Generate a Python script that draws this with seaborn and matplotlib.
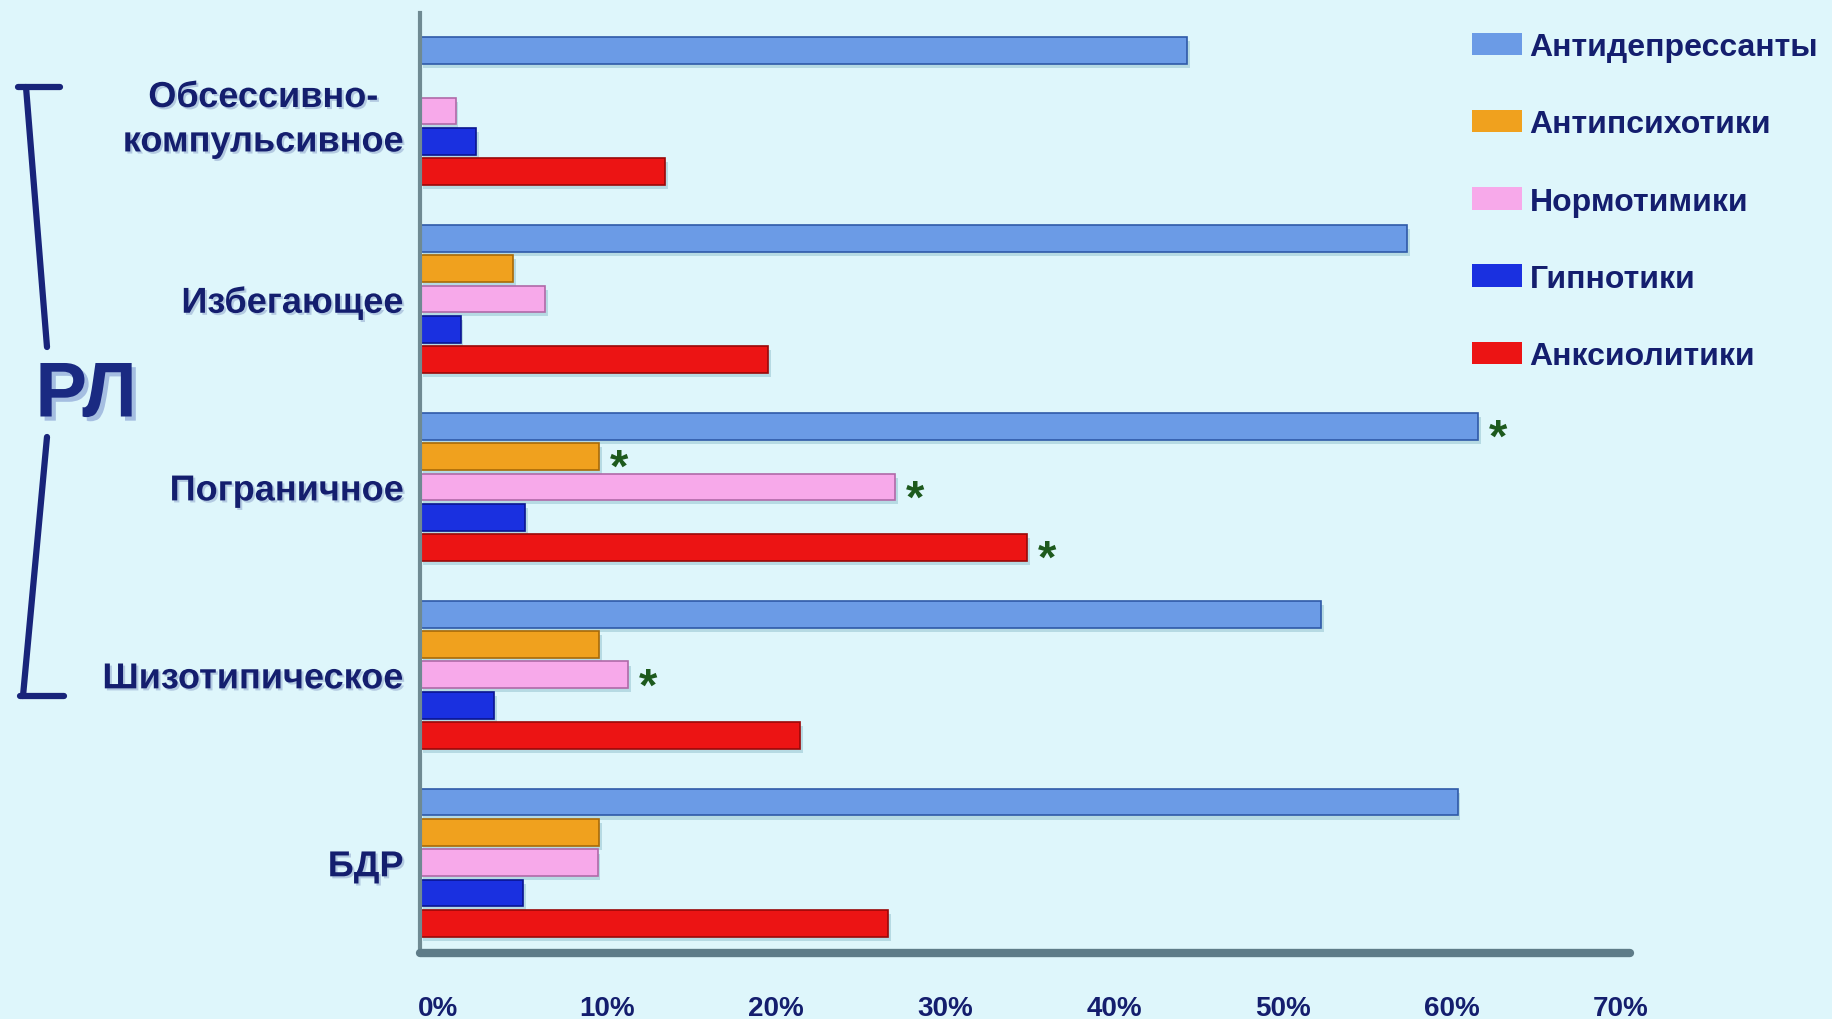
import matplotlib
matplotlib.use("Agg")
import matplotlib.pyplot as plt
import matplotlib.transforms as mtransforms
import matplotlib.patheffects as pe
import seaborn as sns
import pandas as pd

# ---- data ----
categories = ["Обсессивно-\nкомпульсивное", "Избегающее", "Пограничное", "Шизотипическое", "БДР"]
drugs = ["Антидепрессанты", "Антипсихотики", "Нормотимики", "Гипнотики", "Анксиолитики"]
antidepressants = [45.4, 58.4, 62.6, 53.3, 61.4]
antipsychotics = [0.0, 5.5, 10.6, 10.6, 10.6]
normotimics = [2.1, 7.4, 28.1, 12.3, 10.5]
hypnotics = [3.3, 2.4, 6.2, 4.4, 6.1]
anxiolytics = [14.5, 20.6, 35.9, 22.5, 27.7]
xticks = [0, 10, 20, 30, 40, 50, 60, 70]
xtick_labels = ["0%", "10%", "20%", "30%", "40%", "50%", "60%", "70%"]
# significance marks: (category index, drug index)
stars = [(2, 0), (2, 1), (2, 2), (2, 4), (3, 2)]

series = [antidepressants, antipsychotics, normotimics, hypnotics, anxiolytics]
rows = []
for d, vals in zip(drugs, series):
    for c, v in zip(categories, vals):
        rows.append({"cat": c, "drug": d, "val": v})
df = pd.DataFrame(rows)

colors = ["#6b9be6", "#f0a11e", "#f7a9ea", "#1a30e0", "#ec1414"]
edges = ["#2f5aa8", "#a86a08", "#b06aa8", "#0a1590", "#9a0808"]
navy = "#141e6e"
bg = "#def6fb"

sns.set_theme(style="white")
plt.rcParams["font.family"] = ["Liberation Sans", "DejaVu Sans"]

fig = plt.figure(figsize=(18.32, 10.20), dpi=100, facecolor=bg)
ax = fig.add_axes([0.2293, 0.0647, 0.875 - 0.2293, 0.986 - 0.0647])
ax.set_facecolor(bg)

sns.barplot(data=df, x="val", y="cat", hue="drug", order=categories, hue_order=drugs,
            palette=colors, orient="h", width=0.807, gap=0.12, ax=ax, legend=True,
            saturation=1, linewidth=0)

for cont, ec in zip(ax.containers, edges):
    for bar in cont:
        bar.set_edgecolor(ec)
        bar.set_linewidth(1.2)
        bar.set_path_effects([pe.SimplePatchShadow(offset=(2, -3), shadow_rgbFace="#9cc8d4", alpha=0.6),
                              pe.Normal()])

ax.set_xlim(0, 70)
ax.set_ylim(4.48, -0.52)
ax.set_xlabel("")
ax.set_ylabel("")

ax.set_xticks(xticks)
ax.set_xticklabels(xtick_labels, fontsize=20, fontweight="bold", color=navy,
                   family=["Liberation Sans Narrow", "Liberation Sans", "DejaVu Sans"])
ax.tick_params(axis="x", length=0, pad=30)
ax.tick_params(axis="y", length=0, pad=12)
offset = mtransforms.ScaledTranslation(0.18, 0, fig.dpi_scale_trans)
for lab in ax.get_xticklabels():
    lab.set_transform(lab.get_transform() + offset)

for lab in ax.get_yticklabels():
    lab.set_fontsize(26)
    lab.set_fontweight("bold")
    lab.set_color(navy)
    lab.set_horizontalalignment("right")
    lab.set_multialignment("center")
    lab.set_linespacing(1.35)
    lab.set_path_effects([pe.withSimplePatchShadow(offset=(1.5, -1.5), shadow_rgbFace="#8aa0c8", alpha=0.5)])

for s in ["top", "right"]:
    ax.spines[s].set_visible(False)
ax.spines["left"].set_color("#6f8a92")
ax.spines["left"].set_linewidth(3)
ax.spines["bottom"].set_color("#5e7c88")
ax.spines["bottom"].set_linewidth(6)
ax.spines["bottom"].set_capstyle("round")
ax.spines["bottom"].set_bounds(0, 71.6)

# significance stars
n = len(drugs)
slot = 0.807 / n
for ci, di in stars:
    y = ci - 0.807 / 2 + slot * (di + 0.5)
    x = series[di][ci]
    ax.annotate("*", xy=(x, y), xytext=(8, -9), textcoords="offset points",
                ha="left", va="center", fontsize=34, fontweight="bold", color="#1d5a1d")

# legend
handles, labels = ax.get_legend_handles_labels()
ax.legend(handles, labels, loc="upper left", bbox_to_anchor=(1472 / 1832, 1 - 33 / 1020),
          bbox_transform=fig.transFigure, frameon=False,
          prop={"weight": "bold", "size": 23}, labelcolor=navy,
          handlelength=1.55, handleheight=0.7, handletextpad=0.25, labelspacing=1.48,
          borderaxespad=0, borderpad=0)

# РЛ bracket
W, H = 1832, 1020
def fx(x):
    return x / W
def fy(y):
    return 1 - y / H
lw = 4.5
bc = "#18247a"
fig.add_artist(plt.Line2D([fx(18), fx(60)], [fy(88), fy(88)], color=bc, lw=lw, solid_capstyle="round"))
fig.add_artist(plt.Line2D([fx(26), fx(47)], [fy(88), fy(348)], color=bc, lw=lw, solid_capstyle="round"))
fig.add_artist(plt.Line2D([fx(47), fx(23)], [fy(438), fy(697)], color=bc, lw=lw, solid_capstyle="round"))
fig.add_artist(plt.Line2D([fx(20), fx(64)], [fy(697), fy(697)], color=bc, lw=lw, solid_capstyle="round"))
fig.text(fx(86), fy(397), "РЛ", fontsize=56, fontweight="bold", color="#1a2a82",
         ha="center", va="center",
         path_effects=[pe.withSimplePatchShadow(offset=(3, -3), shadow_rgbFace="#7f9ad0", alpha=0.6)])

fig.savefig("out.png", dpi=100, facecolor=bg)
